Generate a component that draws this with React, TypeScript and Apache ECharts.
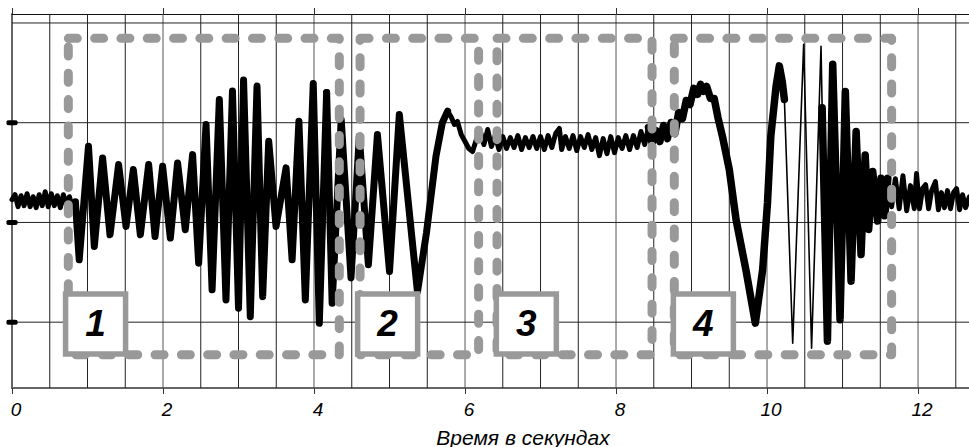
import React, { useEffect, useRef } from 'react';
import * as echarts from 'echarts';

// ---- Data (time in seconds, amplitude in arbitrary units; grid lines at -1, 0, 1, 2) ----
const xMax = 12.675;
const xLabelsEvery = 2;
const vGrid = [0.5, 1, 1.5, 2, 2.5, 3, 3.5, 4, 4.5, 5, 5.5, 6, 6.5, 7, 7.5, 8, 8.5, 9, 9.5, 10, 10.5, 11, 11.5, 12, 12.5];
const hLines = [2, 1, 0, -1];
const yTickMarks = [1, 0, -1];

const noiseStart: number[][] = [
  [0.00, 0.228], [0.04, 0.278], [0.08, 0.158], [0.12, 0.268], [0.16, 0.168], [0.20, 0.288],
  [0.24, 0.158], [0.28, 0.258], [0.32, 0.148], [0.36, 0.278], [0.40, 0.168], [0.44, 0.308],
  [0.48, 0.158], [0.52, 0.288], [0.56, 0.168], [0.60, 0.268], [0.64, 0.148], [0.68, 0.278],
  [0.72, 0.178], [0.76, 0.258], [0.80, 0.158], [0.84, 0.208],
];

const oscillation1: number[][] = [
  [0.89, -0.375], [1.013, 0.764], [1.09, -0.241], [1.20, 0.647], [1.298, -0.124], [1.412, 0.580],
  [1.51, -0.040], [1.607, 0.530], [1.70, -0.124], [1.81, 0.580], [1.894, -0.141], [1.995, 0.563],
  [2.097, -0.157], [2.193, 0.597], [2.295, -0.073], [2.392, 0.680], [2.472, -0.408], [2.57, 0.982],
  [2.65, -0.676], [2.746, 1.233], [2.834, -0.777], [2.92, 1.317], [3.00, -0.860], [3.067, 1.427],
  [3.156, -0.945], [3.245, 1.367], [3.32, -0.744], [3.40, 0.814], [3.497, -0.040], [3.63, 0.547],
  [3.71, -0.375], [3.80, 1.015], [3.885, -0.777], [3.99, 1.394], [4.07, -1.011], [4.167, 1.304],
];

const oscillation2: number[][] = [
  [4.24, -0.810], [4.36, 1.032], [4.49, -0.556], [4.60, 0.864], [4.72, -0.425], [4.84, 0.881],
  [5.00, -0.492], [5.13, 1.082], [5.37, -0.696], [5.49, -0.100], [5.615, 0.663], [5.70, 1.000],
  [5.77, 1.116],
];

const plateau: number[][] = [
  [5.82, 1.052], [5.86, 0.982], [5.90, 1.012], [5.95, 0.881], [6.00, 0.811], [6.05, 0.741],
  [6.10, 0.711], [6.15, 0.831], [6.20, 0.922], [6.25, 0.781], [6.30, 0.932], [6.35, 0.761],
  [6.40, 0.871], [6.45, 0.731], [6.50, 0.861], [6.55, 0.741], [6.60, 0.851], [6.65, 0.751],
  [6.70, 0.871], [6.75, 0.731], [6.80, 0.851], [6.85, 0.751], [6.90, 0.861], [6.95, 0.741],
  [7.00, 0.861], [7.05, 0.731], [7.10, 0.871], [7.15, 0.751], [7.20, 0.891], [7.25, 0.942],
  [7.28, 0.731], [7.33, 0.861], [7.38, 0.741], [7.43, 0.871], [7.48, 0.721], [7.53, 0.861],
  [7.58, 0.751], [7.63, 0.881], [7.68, 0.731], [7.73, 0.851], [7.78, 0.670], [7.83, 0.841],
  [7.88, 0.690], [7.93, 0.861], [7.98, 0.700], [8.03, 0.851], [8.08, 0.741], [8.13, 0.871],
  [8.18, 0.731], [8.23, 0.871], [8.28, 0.751], [8.33, 0.912], [8.38, 0.781], [8.43, 0.952],
];

const swing: number[][] = [
  [8.48, 0.791], [8.53, 0.922], [8.58, 0.811], [8.63, 0.972], [8.68, 0.841], [8.73, 1.002],
  [8.78, 0.891], [8.83, 1.103], [8.88, 1.042], [8.93, 1.223], [8.98, 1.183], [9.03, 1.344],
  [9.08, 1.284], [9.12, 1.384], [9.16, 1.314], [9.20, 1.364], [9.25, 1.243], [9.30, 1.243],
  [9.35, 1.052], [9.41, 0.861], [9.50, 0.531], [9.59, 0.027], [9.72, -0.475], [9.845, -1.010],
  [9.942, -0.475], [10.006, 0.195], [10.05, 0.864], [10.12, 1.367], [10.163, 1.570],
  [10.20, 1.420], [10.23, 1.233],
];

const thinBurst: number[][] = [
  [10.34, -1.212], [10.485, 1.786], [10.59, -1.262], [10.715, 1.766], [10.73, 1.150],
];

const tailOscillation: number[][] = [
  [10.80, -1.190], [10.87, 1.585], [10.967, -0.975], [11.037, 1.314], [11.113, -0.589],
  [11.18, 0.912], [11.245, -0.322], [11.30, 0.677], [11.346, -0.070], [11.40, 0.510],
  [11.465, 0.014], [11.51, 0.442], [11.56, 0.067], [11.60, 0.442],
];

const tailNoise: number[][] = [
  [11.65, 0.158], [11.70, 0.439], [11.75, 0.138], [11.80, 0.469], [11.85, 0.118], [11.90, 0.369],
  [11.95, 0.138], [11.98, 0.490], [12.02, 0.138], [12.06, 0.339], [12.10, 0.379], [12.14, 0.138],
  [12.18, 0.319], [12.23, 0.409], [12.27, 0.128], [12.31, 0.299], [12.35, 0.148], [12.39, 0.319],
  [12.43, 0.138], [12.47, 0.299], [12.51, 0.339], [12.55, 0.128], [12.59, 0.278], [12.63, 0.148],
  [12.68, 0.258],
];

// Dashed phase boxes and their numbered labels
const boxLeft = [0.746, 4.61, 6.424, 8.772];
const boxRight = [4.335, 6.18, 8.477, 11.65];
const boxTop = 1.846;
const boxBottom = -1.327;
const boxLabels = ['1', '2', '3', '4'];
const labelX = [1.107, 4.975, 6.812, 9.157];
const labelY = -1.018;

const FONT = '"Liberation Sans", Arial, Helvetica, sans-serif';

export default function App() {
  const ref = useRef<HTMLDivElement>(null);

  useEffect(() => {
    if (!ref.current) return;
    const chart = echarts.init(ref.current, null, { renderer: 'svg' });

    const segments = [noiseStart, oscillation1, oscillation2, plateau, swing, thinBurst, tailOscillation, tailNoise];
    const widths = [5, 7, 7, 5, 7.5, 1.6, 7.5, 5];

    const signalSeries = segments.map((seg, i) => ({
      type: 'line',
      data: i === 0 ? seg : [segments[i - 1][segments[i - 1].length - 1], ...seg],
      showSymbol: false,
      symbol: 'none',
      silent: true,
      z: 3,
      lineStyle: { color: '#000', width: widths[i], cap: 'round', join: 'round' },
    }));

    const hGridSeries = hLines.map((v) => ({
      type: 'line',
      data: [[0, v], [xMax, v]],
      showSymbol: false,
      symbol: 'none',
      silent: true,
      z: 1,
      lineStyle: { color: '#222', width: 1 },
    }));

    const vGridSeries = vGrid.map((t) => ({
      type: 'line',
      data: [[t, -1.66], [t, 2.09]],
      showSymbol: false,
      symbol: 'none',
      silent: true,
      z: 1,
      lineStyle: { color: t % 2 === 0 ? '#555' : '#222', width: 1 },
    }));

    const boxSeries = boxLeft.map((l, i) => ({
      type: 'line',
      data: [[l, boxTop], [boxRight[i], boxTop], [boxRight[i], boxBottom], [l, boxBottom], [l, boxTop]],
      showSymbol: false,
      symbol: 'none',
      silent: true,
      z: 6,
      lineStyle: { color: '#999', width: 9, type: [9, 17.3], cap: 'round', join: 'round' },
    }));

    const option: any = {
      animation: false,
      backgroundColor: '#fff',
      grid: { left: 12, right: 0, top: 14, bottom: 59, containLabel: false },
      xAxis: [
        {
          type: 'value', position: 'bottom', min: 0, max: xMax, interval: xLabelsEvery,
          axisLine: { show: true, onZero: false, lineStyle: { color: '#666', width: 2 } },
          axisTick: { show: true, inside: false, length: 6, lineStyle: { color: '#333', width: 1 } },
          axisLabel: {
            show: true, color: '#000', fontSize: 19, fontStyle: 'italic', fontFamily: FONT,
            margin: 12, padding: [0, 0, 0, 8], showMaxLabel: false,
            formatter: (v: number) => (v % xLabelsEvery === 0 ? String(v) : ''),
          },
          splitLine: { show: false },
        },
        {
          type: 'value', position: 'top', min: 0, max: xMax, interval: xLabelsEvery,
          axisLine: { show: true, onZero: false, lineStyle: { color: '#111', width: 1 } },
          axisTick: { show: true, inside: false, length: 6, lineStyle: { color: '#333', width: 1 } },
          axisLabel: { show: false },
          splitLine: { show: false },
        },
      ],
      yAxis: {
        type: 'value', min: -1.66, max: 2.09,
        axisLine: { show: true, onZero: false, lineStyle: { color: '#666', width: 2 } },
        axisTick: { show: false },
        axisLabel: { show: false },
        splitLine: { show: false },
      },
      graphic: [
        {
          type: 'text', x: 523, y: 437, silent: true,
          style: {
            text: 'Время в секундах', fontSize: 21, fontStyle: 'italic', fontFamily: FONT,
            fill: '#000', align: 'center', verticalAlign: 'middle',
          },
        },
      ],
      series: [
        ...vGridSeries,
        ...hGridSeries,
        ...signalSeries,
        ...boxSeries,
        {
          type: 'scatter',
          data: yTickMarks.map((v) => [0, v]),
          symbol: 'roundRect',
          symbolSize: [11, 5],
          clip: false,
          silent: true,
          z: 7,
          itemStyle: { color: '#000', opacity: 1 },
        },
        {
          type: 'scatter',
          data: labelX.map((x, i) => [x, labelY, boxLabels[i]]),
          symbol: 'rect',
          symbolSize: 60,
          silent: true,
          z: 8,
          itemStyle: { color: '#fff', borderColor: '#999', borderWidth: 5.5, opacity: 1 },
          label: {
            show: true, position: 'inside', color: '#000', fontSize: 37, fontWeight: 'bold',
            fontStyle: 'italic', fontFamily: FONT, formatter: (p: any) => p.data[2],
          },
        },
      ],
    };

    chart.setOption(option);
    return () => chart.dispose();
  }, []);

  return <div ref={ref} style={{ position: 'fixed', left: 0, top: 0, width: 969, height: 447 }} />;
}
